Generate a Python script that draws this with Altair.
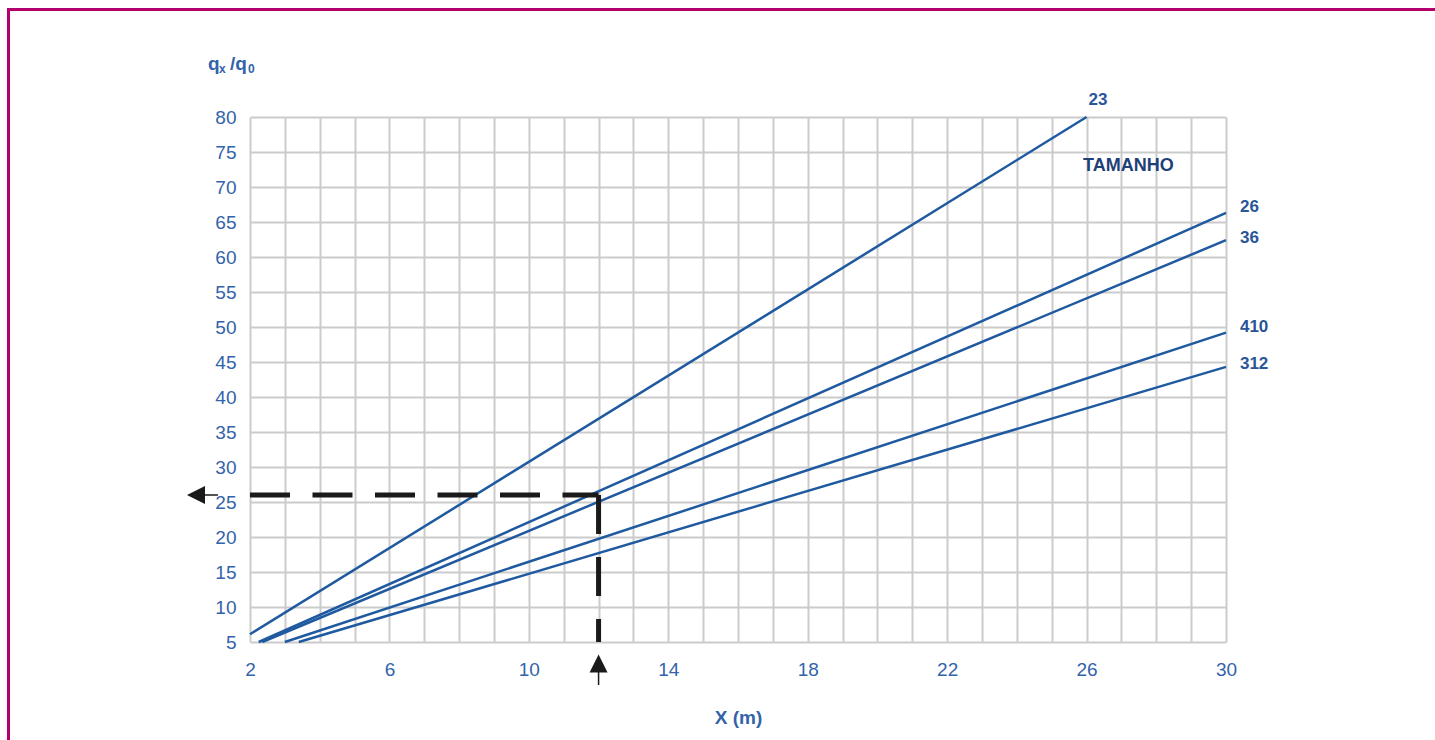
import altair as alt
import pandas as pd

# ---- data ----
series = ["23", "26", "36", "410", "312"]
x_start = [2.0, 2.25, 2.35, 3.0, 3.4]
y_start = [6.1, 5.0, 5.0, 5.0, 5.0]
x_end = [26.0, 30.0, 30.0, 30.0, 30.0]
y_end = [80.0, 66.3, 62.4, 49.2, 44.3]

label_x = [26.33, 30.4, 30.4, 30.4, 30.4]
label_y = [82.4, 67.1, 62.7, 50.0, 44.7]

x_ticks = list(range(2, 31))
y_ticks = list(range(5, 81, 5))

read_x = 12
read_y = 26
axis_left = 2
axis_bottom = 5

legend_title = "TAMANHO"
legend_x = 27.2
legend_y = 73.0

x_title = "X (m)"

# arrow annotation anchors (data units)
left_arrow_x = 0.45
left_shaft = [0.70, 1.08]
up_arrow_y = 1.93
up_shaft = [0.72, -1.14]

# ---- styles ----
BLUE = "#1f5aa0"
LABEL_BLUE = "#3363aa"
NAVY = "#1f3f78"
GRID = "#cbcbcb"
FONT = "Liberation Sans"

rows = []
for s, x0, y0, x1, y1 in zip(series, x_start, y_start, x_end, y_end):
    rows.append({"series": s, "x": x0, "y": y0, "o": 0})
    rows.append({"series": s, "x": x1, "y": y1, "o": 1})
lines_df = pd.DataFrame(rows)

xs = alt.Scale(domain=[2, 30], nice=False, zero=False)
ys = alt.Scale(domain=[5, 80], nice=False, zero=False)

x_axis = alt.Axis(
    values=x_ticks, tickCount=100, format="d",
    labelExpr="(datum.value - 2) % 4 == 0 ? datum.label : ''",
    grid=True, gridColor=GRID, gridWidth=2,
    domain=False, ticks=False,
    labelOverlap=False, labelFlush=False,
    labelFont=FONT, labelFontSize=19, labelColor=LABEL_BLUE,
    labelPadding=18,
    title=x_title, titleFont=FONT, titleFontSize=19, titleColor=LABEL_BLUE,
    titleFontWeight="bold", titlePadding=29,
)
y_axis = alt.Axis(
    values=y_ticks, tickCount=100, format="d",
    grid=True, gridColor=GRID, gridWidth=2,
    domain=False, ticks=False,
    labelOverlap=False, labelFlush=False,
    labelFont=FONT, labelFontSize=19, labelColor=LABEL_BLUE,
    labelPadding=14, title=None,
)

base = alt.Chart(lines_df)

grid_layer = base.mark_line(opacity=0).encode(
    x=alt.X("x:Q", scale=xs, axis=x_axis),
    y=alt.Y("y:Q", scale=ys, axis=y_axis),
)

lines = base.mark_line(color=BLUE, strokeWidth=2.5).encode(
    x=alt.X("x:Q", scale=xs),
    y=alt.Y("y:Q", scale=ys),
    detail="series:N",
    order="o:Q",
)

lab_df = pd.DataFrame({"series": series, "x": label_x, "y": label_y})
lab_top = alt.Chart(lab_df.iloc[:1]).mark_text(
    align="center", baseline="middle", font=FONT, fontSize=17,
    fontWeight="bold", color="#2a5598",
).encode(x=alt.X("x:Q", scale=xs), y=alt.Y("y:Q", scale=ys), text="series:N")
lab_right = alt.Chart(lab_df.iloc[1:]).mark_text(
    align="left", baseline="middle", font=FONT, fontSize=17,
    fontWeight="bold", color="#2a5598",
).encode(x=alt.X("x:Q", scale=xs), y=alt.Y("y:Q", scale=ys), text="series:N")

legend_txt = alt.Chart(pd.DataFrame({"t": [legend_title], "x": [legend_x], "y": [legend_y]})).mark_text(
    align="center", baseline="middle", font=FONT, fontSize=18,
    fontWeight="bold", color=NAVY,
).encode(x=alt.X("x:Q", scale=xs), y=alt.Y("y:Q", scale=ys), text="t:N")

# dashed reading lines
h_df = pd.DataFrame({"x": [axis_left, read_x], "y": [read_y, read_y], "o": [0, 1]})
v_df = pd.DataFrame({"x": [read_x, read_x], "y": [read_y, axis_bottom], "o": [0, 1]})
h_dash = alt.Chart(h_df).mark_line(color="#1a1a1a", strokeWidth=5, strokeDash=[40, 22.5]).encode(
    x=alt.X("x:Q", scale=xs), y=alt.Y("y:Q", scale=ys), order="o:Q")
v_dash = alt.Chart(v_df).mark_line(color="#1a1a1a", strokeWidth=5, strokeDash=[39, 23]).encode(
    x=alt.X("x:Q", scale=xs), y=alt.Y("y:Q", scale=ys), order="o:Q")

# arrows
la_df = pd.DataFrame({"x": [left_arrow_x], "y": [read_y]})
left_head = alt.Chart(la_df).mark_point(
    shape="M-1,0L1,-1L1,1Z", size=324, filled=True, color="#1a1a1a", opacity=1, strokeWidth=0
).encode(x=alt.X("x:Q", scale=xs), y=alt.Y("y:Q", scale=ys))
ls_df = pd.DataFrame({"x": [left_shaft[0]], "x2": [left_shaft[1]], "y": [read_y]})
left_shaft_m = alt.Chart(ls_df).mark_rule(color="#1a1a1a", strokeWidth=1.5).encode(
    x=alt.X("x:Q", scale=xs), x2="x2:Q", y=alt.Y("y:Q", scale=ys))

ua_df = pd.DataFrame({"x": [read_x], "y": [up_arrow_y]})
up_head = alt.Chart(ua_df).mark_point(
    shape="M0,-1L1,1L-1,1Z", size=324, filled=True, color="#1a1a1a", opacity=1, strokeWidth=0
).encode(x=alt.X("x:Q", scale=xs), y=alt.Y("y:Q", scale=ys))
us_df = pd.DataFrame({"x": [read_x], "y": [up_shaft[0]], "y2": [up_shaft[1]]})
up_shaft_m = alt.Chart(us_df).mark_rule(color="#1a1a1a", strokeWidth=1.5).encode(
    x=alt.X("x:Q", scale=xs), y=alt.Y("y:Q", scale=ys), y2="y2:Q")

# y title "q_x / q_0"
def txt(t, xp, yp, size):
    return alt.Chart(pd.DataFrame({"t": [t]})).mark_text(
        align="left", baseline="alphabetic", font=FONT, fontSize=size,
        fontWeight="bold", color=LABEL_BLUE,
    ).encode(text="t:N", x=alt.value(xp), y=alt.value(yp))

yt1 = txt("q", -42, -47.5, 19)
yt2 = txt("x", -31, -44.5, 12)
yt3 = txt("/q", -20, -47.5, 19)
yt4 = txt("0", -2, -44.5, 12)

# outer magenta frame
FRAME = "#b3006d"
frame_top = alt.Chart(pd.DataFrame({"a": [0]})).mark_rule(color=FRAME, strokeWidth=3).encode(
    x=alt.value(-241.5), x2=alt.value(1190), y=alt.value(-107.5))
frame_left = alt.Chart(pd.DataFrame({"a": [0]})).mark_rule(color=FRAME, strokeWidth=3).encode(
    x=alt.value(-241.5), y=alt.value(-109), y2=alt.value(630))

chart = alt.layer(
    grid_layer, lines, lab_top, lab_right, legend_txt,
    h_dash, v_dash, left_head, left_shaft_m, up_head, up_shaft_m,
    yt1, yt2, yt3, yt4, frame_top, frame_left,
).properties(
    width=976, height=525,
    autosize=alt.AutoSizeParams(type="none"),
    padding={"left": 250, "top": 117, "right": 209, "bottom": 98},
    background="white",
).configure_view(strokeWidth=0)

chart.save("out.html", embed_options={"renderer": "svg", "actions": False})
